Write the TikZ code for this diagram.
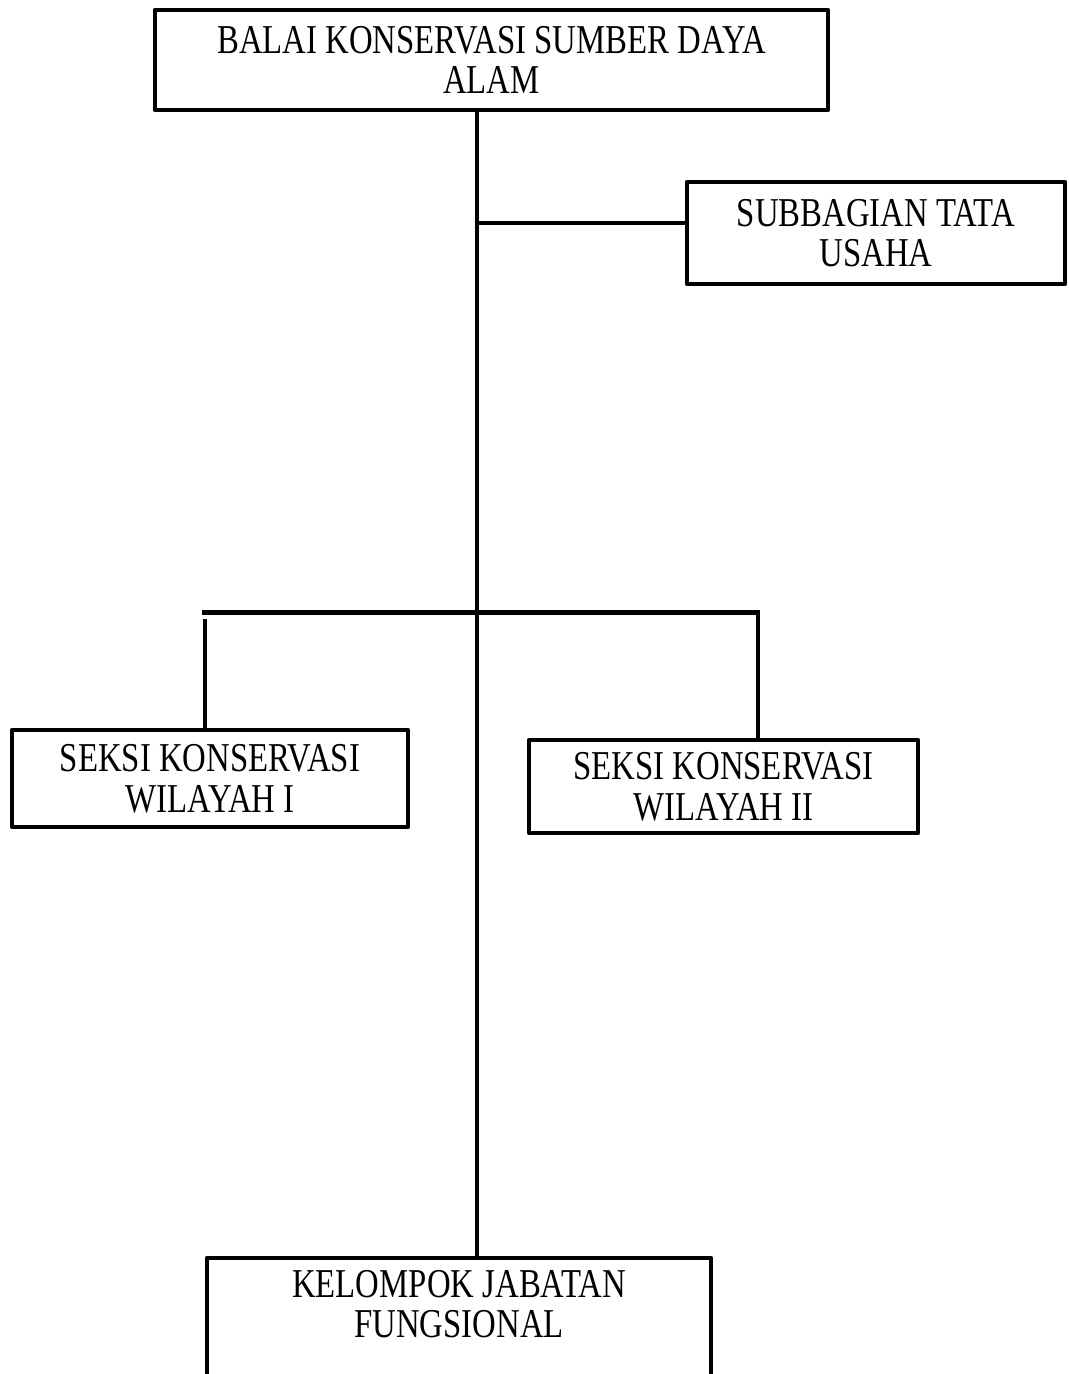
\documentclass[tikz,border=0pt]{standalone}
\usepackage{fontspec}
\setmainfont[FakeStretch=0.8]{Liberation Serif}
\newcommand\kantor{\fontsize{20.5}{20.25}\selectfont}
\begin{document}
\begin{tikzpicture}[x=0.5pt,y=-0.5pt,line join=round,font=\kantor,
	box/.style={draw,line width=2.4pt,inner sep=0pt,align=center},
	link/.style={line width=2pt},
	drop/.style={line width=1.6pt}]
			\useasboundingbox (0,0) rectangle (1069,1374);
			\clip (0,0) rectangle (1069,1374);
			\path 
			(477,0) coordinate (t)
			(477,223) coordinate (tu)
			(202,612) coordinate (bl)
			(760,612) coordinate (br)
			(205,619) coordinate (dl)
			(758,612) coordinate (dr)
			;
			\node[box,minimum width=336.5pt,minimum height=50pt] (balai) at (491.5,60)
			{BALAI KONSERVASI SUMBER DAYA\\ALAM};
			\node[box,minimum width=189pt,minimum height=51pt] (subbag) at (876,233)
			{SUBBAGIAN TATA\\USAHA};
			\node[box,minimum width=198pt,minimum height=48.5pt] (seksi1) at (210,778.5)
			{SEKSI KONSERVASI\\WILAYAH I};
			\node[box,minimum width=194.5pt,minimum height=46.5pt] (seksi2) at (723.5,786.5)
			{SEKSI KONSERVASI\\WILAYAH II};
			\node[box,minimum width=252pt,minimum height=72pt] (kelompok) at (459,1330)
			{KELOMPOK JABATAN\\FUNGSIONAL\\\strut};
			\draw[link] (balai.south -| t)--(kelompok.north -| t);
			\draw[link] (tu)--(subbag.west |- tu);
			\draw[line width=2.5pt] (bl)--(br);
			\draw[drop] (dl)--(seksi1.north -| dl);
			\draw[drop] (dr)--(seksi2.north -| dr);
	\end{tikzpicture}
\end{document}
